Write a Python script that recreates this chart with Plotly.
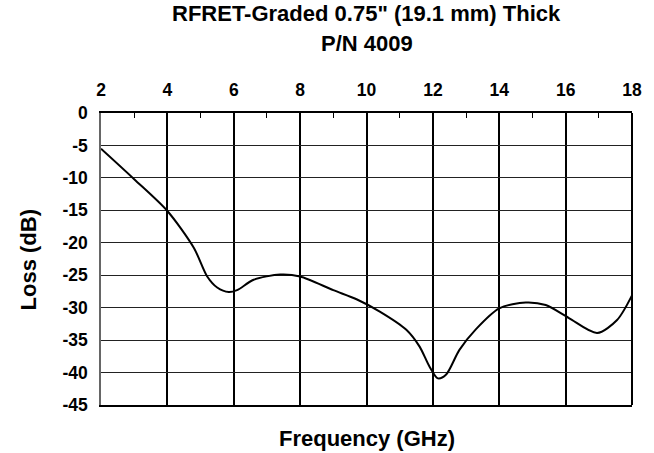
import plotly.graph_objects as go

freq = [2, 3, 4, 4.8, 5.2, 5.5, 5.85, 6.1, 6.6, 7.4, 8.0, 9.0, 9.7, 10.4, 11.2, 11.6, 11.9,
        12.15, 12.4, 12.8, 13.3, 14.0, 14.8, 15.4, 16.1, 16.95, 17.55, 18]
loss = [-5.5, -10.2, -15.1, -20.8, -25.2, -26.9, -27.6, -27.3, -25.7, -24.9, -25.2, -27.3,
        -28.7, -30.6, -33.4, -36.0, -39.1, -40.9, -40.3, -36.5, -33.3, -30.1, -29.2, -29.6,
        -31.6, -33.9, -31.9, -28.1]

x_ticks = [2, 4, 6, 8, 10, 12, 14, 16, 18]
y_ticks = [0, -5, -10, -15, -20, -25, -30, -35, -40, -45]
y_labels = ["0", "-5", "-10", "-15", "-20", "-25", "-30", "-35", "-40", "-45"]

FONT = "Liberation Sans, Arial, sans-serif"

fig = go.Figure()
fig.add_trace(go.Scatter(x=freq, y=loss, mode="lines",
                         line=dict(color="black", width=2, shape="spline", smoothing=0.8),
                         hoverinfo="skip", showlegend=False))

fig.update_layout(
    width=654, height=453,
    margin=dict(l=101, r=19, t=113, b=48),
    paper_bgcolor="white", plot_bgcolor="white",
    font=dict(family=FONT, color="black"),
    xaxis=dict(range=[2, 18], side="top", tickvals=x_ticks,
               tickfont=dict(size=17.5, weight="bold", family=FONT),
               ticklabelstandoff=8,
               showgrid=True, gridcolor="black", gridwidth=2,
               showline=True, linecolor="black", linewidth=1.5, mirror=True,
               ticks="", zeroline=False,
               minor=dict(tickvals=[3, 5, 7, 9, 11, 13, 15, 17], ticks="inside",
                          ticklen=5, tickcolor="black", tickwidth=1.2, showgrid=False)),
    yaxis=dict(range=[-45, 0], tickvals=y_ticks, ticktext=y_labels,
               tickfont=dict(size=17.5, weight="bold", family=FONT),
               ticklabelstandoff=8,
               showgrid=True, gridcolor="#222", gridwidth=1,
               showline=True, linecolor="#666", linewidth=1.5, mirror=False,
               ticks="", ticklen=0, zeroline=False),
    annotations=[
        dict(text="RFRET-Graded 0.75\" (19.1 mm) Thick", x=0.5, y=1.3408,
             xref="paper", yref="paper", xanchor="center", yanchor="middle",
             showarrow=False, font=dict(size=22, weight="bold", family=FONT)),
        dict(text="P/N 4009", x=0.5, y=1.2373,
             xref="paper", yref="paper", xanchor="center", yanchor="middle",
             showarrow=False, font=dict(size=22, weight="bold", family=FONT)),
        dict(text="Frequency (GHz)", x=0.5, y=-0.1164, xref="paper", yref="paper",
             xanchor="center", yanchor="middle", showarrow=False,
             font=dict(size=22, weight="bold", family=FONT)),
        dict(text="Loss (dB)", x=-0.1348, y=0.4966, xref="paper", yref="paper",
             xanchor="center", yanchor="middle", showarrow=False, textangle=-90,
             font=dict(size=22, weight="bold", family=FONT)),
    ],
)
# right border at 18
fig.add_shape(type="line", xref="paper", yref="paper", x0=1, x1=1, y0=0, y1=1,
              line=dict(color="black", width=2))

fig.write_html("out.html", config={"displayModeBar": False})
with open("out.html", "r", encoding="utf-8") as f:
    html = f.read()
html = html.replace("<head>", "<head><style>html,body{margin:0;padding:0;overflow:hidden;}</style>", 1)
with open("out.html", "w", encoding="utf-8") as f:
    f.write(html)
